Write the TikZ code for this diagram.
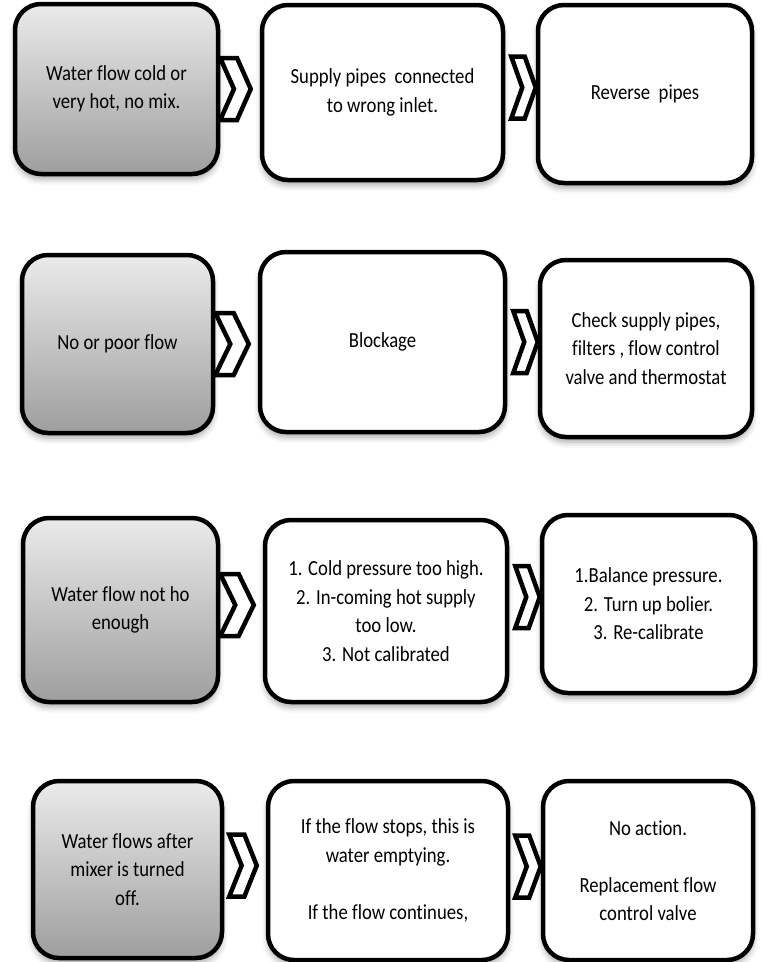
\documentclass[tikz,border=0pt]{standalone}
\usepackage{fontspec}
\setmainfont{Carlito}[FakeStretch=0.87, Ligatures=NoCommon]
\usetikzlibrary{calc,shadows.blur}

\tikzset{
  box/.style={draw, line width=4.5pt, rounded corners=26pt, fill=white,
    align=center, inner sep=0pt, font=\fontsize{21.5}{28.5}\selectfont,
    blur shadow={shadow xshift=0pt, shadow yshift=-5pt,
      shadow blur radius=6pt, shadow opacity=35}},
  prob/.style={box, top color=black!8, bottom color=black!38},
  chevline/.style={draw, line width=4.5pt, fill=white}
}

% chevron between two anchors
\newcommand{\chevron}[2]{%
  \path[chevline] let \p1=(#1), \p2=(#2) in
    (\x1,\y1+31pt) -- ({\x1+0.55*(\x2-\x1)},\y1+31pt) -- (\x2,\y1)
    -- ({\x1+0.55*(\x2-\x1)},\y1-31pt) -- (\x1,\y1-31pt)
    -- ({\x1+0.45*(\x2-\x1)},\y1) -- cycle;}

\begin{document}
\begin{tikzpicture}[x=1pt, y=-1pt]
\useasboundingbox (0,0) rectangle (763,962);

% Fila 1
\node[prob, minimum width=203pt, minimum height=170pt] (prob1) at (116.5,89)
  {Water flow cold or\\very hot, no mix.};
\node[box, minimum width=241pt, minimum height=175pt] (cause1) at (382.5,92.5)
  {Supply pipes~ connected\\to wrong inlet.};
\node[box, minimum width=214pt, minimum height=178pt] (fix1) at (645,94)
  {Reverse~ pipes};
\chevron{prob1.east}{[xshift=-9pt]cause1.west}
\chevron{[xshift=6pt,yshift=5pt]cause1.east}{[yshift=5pt]fix1.west}

% Fila 2
\node[prob, minimum width=191pt, minimum height=178pt] (prob2) at (117.5,344)
  {No or poor flow};
\node[box, minimum width=245pt, minimum height=180pt] (cause2) at (382.5,342)
  {Blockage};
\node[box, minimum width=212pt, minimum height=177pt] (fix2) at (646,348.5)
  {Check supply pipes,\\filters , flow control\\valve and thermostat};
\chevron{prob2.east}{[xshift=-9pt]cause2.west}
\chevron{[xshift=6pt]cause2.east}{[yshift=6pt]fix2.west}

% Fila 3
\node[prob, minimum width=195pt, minimum height=184pt] (prob3) at (120.5,610)
  {Water flow not ho\\enough};
\node[box, minimum width=242pt, minimum height=182pt] (cause3) at (386,611)
  {1. Cold pressure too high.\\2. In-coming hot supply\\too low.\\3. Not calibrated};
\node[box, minimum width=213pt, minimum height=178pt] (fix3) at (648.5,604)
  {1.Balance pressure.\\2. Turn up bolier.\\3. Re-calibrate};
\chevron{[yshift=5pt]prob3.east}{[xshift=-9pt,yshift=5pt]cause3.west}
\chevron{[xshift=6pt,yshift=14pt]cause3.east}{[yshift=7pt]fix3.west}

% Fila 4
\node[prob, minimum width=189pt, minimum height=177pt] (prob4) at (127.5,869.5)
  {Water flows after\\mixer is turned\\off.};
\node[box, minimum width=240pt, minimum height=179pt] (cause4) at (388,870.5)
  {If the flow stops, this is\\water emptying.\\[28.5pt]If the flow continues,};
\node[box, minimum width=210pt, minimum height=179pt] (fix4) at (648,870.5)
  {No action.\\[28.5pt]Replacement flow\\control valve};
\chevron{[xshift=5pt,yshift=4pt]prob4.east}{[xshift=-9pt,yshift=4pt]cause4.west}
\chevron{[xshift=5pt,yshift=4pt]cause4.east}{[yshift=4pt]fix4.west}
\end{tikzpicture}
\end{document}
